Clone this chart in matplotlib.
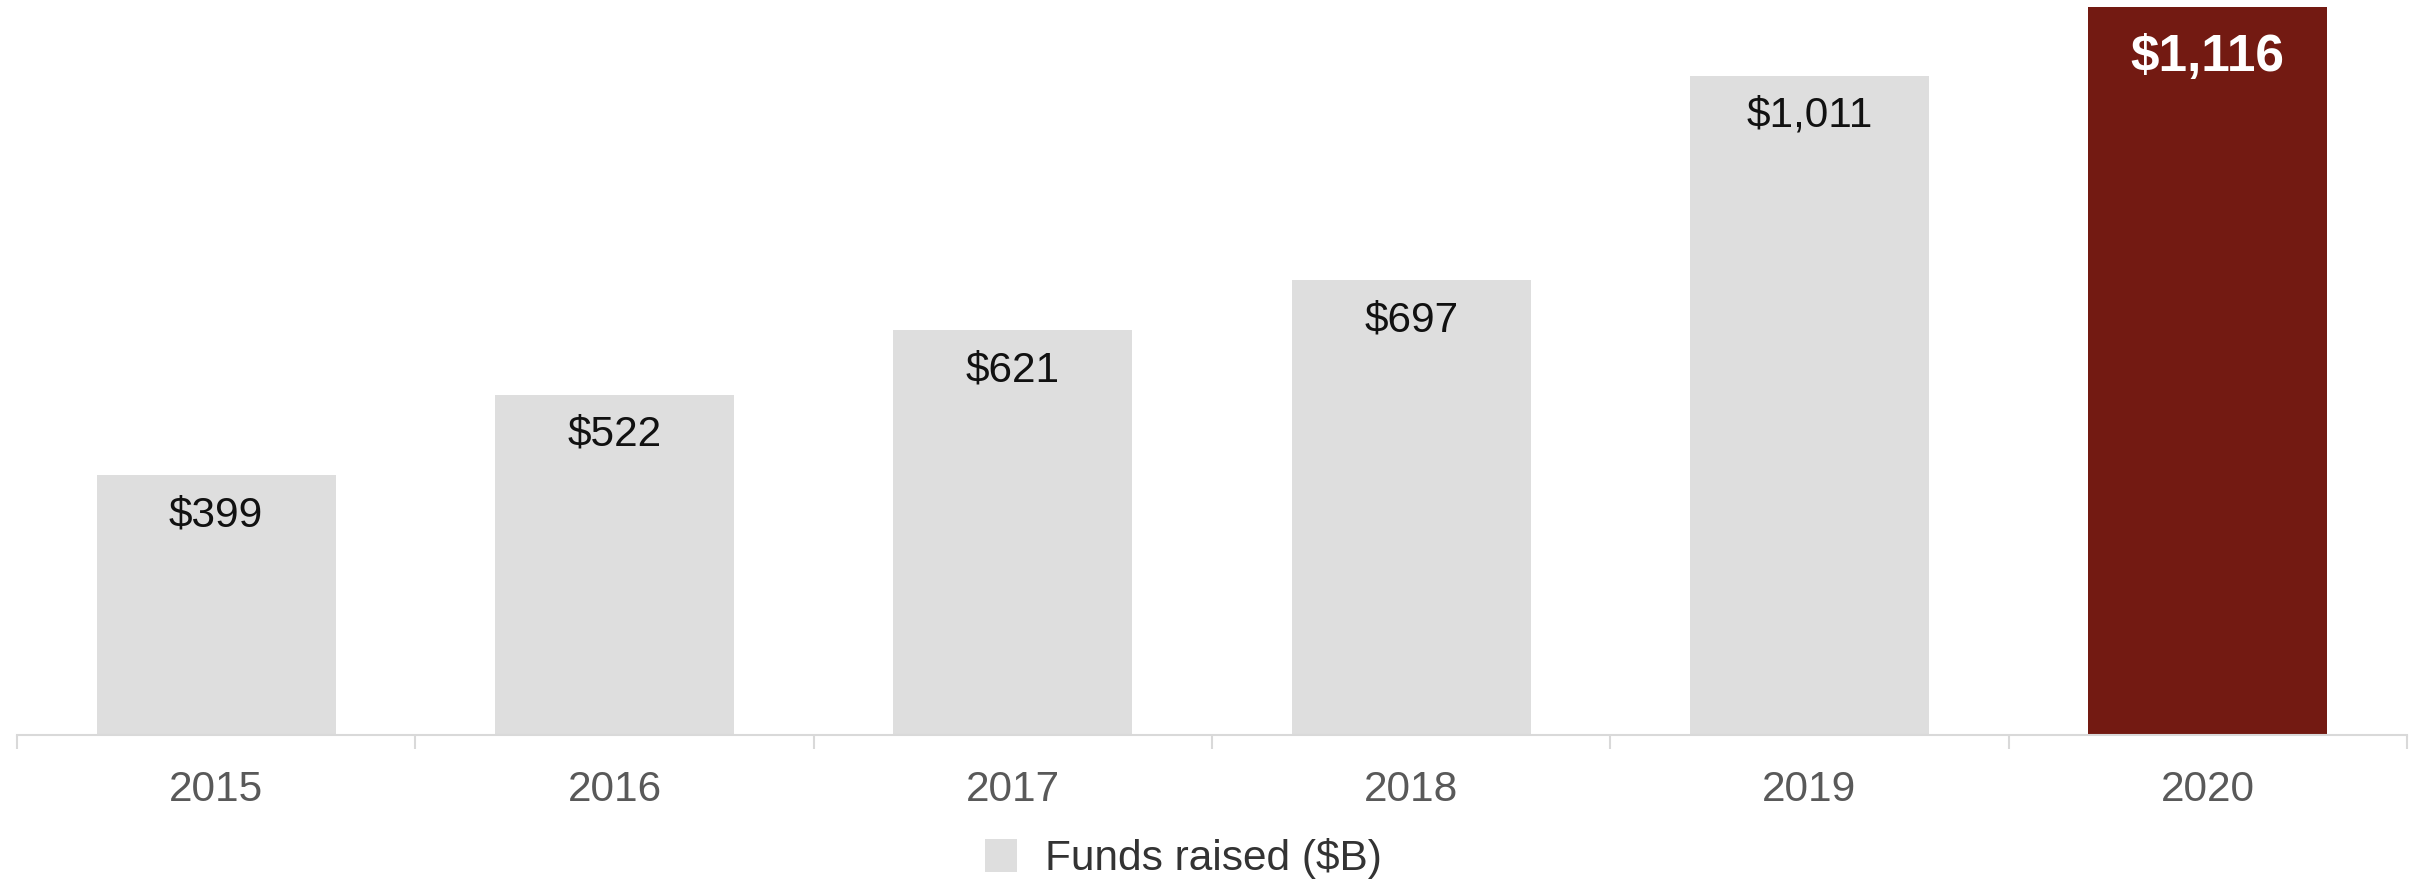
import numpy as np
import matplotlib.pyplot as plt
from matplotlib.patches import Patch

plt.rcParams['font.family'] = ['Liberation Sans', 'DejaVu Sans']

years = ['2015', '2016', '2017', '2018', '2019', '2020']
funds = [399, 522, 621, 697, 1011, 1116]
value_labels = ['$399', '$522', '$621', '$697', '$1,011', '$1,116']

grey = '#dedede'
red = '#731a12'
colors = [grey] * 5 + [red]

fig = plt.figure(figsize=(24.2, 8.8), dpi=100)
ax = fig.add_axes([17 / 2420, 145 / 880, 2390 / 2420, 735 / 880])

x = np.arange(len(years))
bars = ax.bar(x, funds, width=0.6, color=colors, zorder=2)

# value labels inside the bars, near the top
for i, (b, lab) in enumerate(zip(bars, value_labels)):
    if i == len(years) - 1:
        ax.annotate(lab, (b.get_x() + b.get_width() / 2, b.get_height()),
                    xytext=(0, -36), textcoords='offset points',
                    ha='center', va='center', fontsize=37,
                    fontweight='bold', color='white')
    else:
        ax.annotate(lab, (b.get_x() + b.get_width() / 2, b.get_height()),
                    xytext=(0, -29), textcoords='offset points',
                    ha='center', va='center', fontsize=30.5, color='#111111')

ax.set_xlim(-0.5, len(years) - 0.5)
ax.set_ylim(0, 1127)

for s in ['top', 'right', 'left']:
    ax.spines[s].set_visible(False)
ax.spines['bottom'].set_color('#d9d9d9')
ax.spines['bottom'].set_linewidth(1.5)
ax.set_yticks([])

ax.set_xticks(x)
ax.set_xticklabels(years, fontsize=30.5, color='#595959')
ax.tick_params(axis='x', which='major', length=0, pad=25)
ax.set_xticks(np.arange(-0.5, len(years)), minor=True)
ax.tick_params(axis='x', which='minor', length=10, width=1.5, color='#d9d9d9')

fig.legend(handles=[Patch(facecolor=grey, edgecolor='none', label='Funds raised ($B)')],
           loc='center', bbox_to_anchor=(0.489, 0.024), frameon=False,
           fontsize=30.5, handlelength=0.75, handleheight=0.84, handletextpad=0.67,
           labelcolor='#333333', borderpad=0)

fig.savefig('out.png', dpi=100)
